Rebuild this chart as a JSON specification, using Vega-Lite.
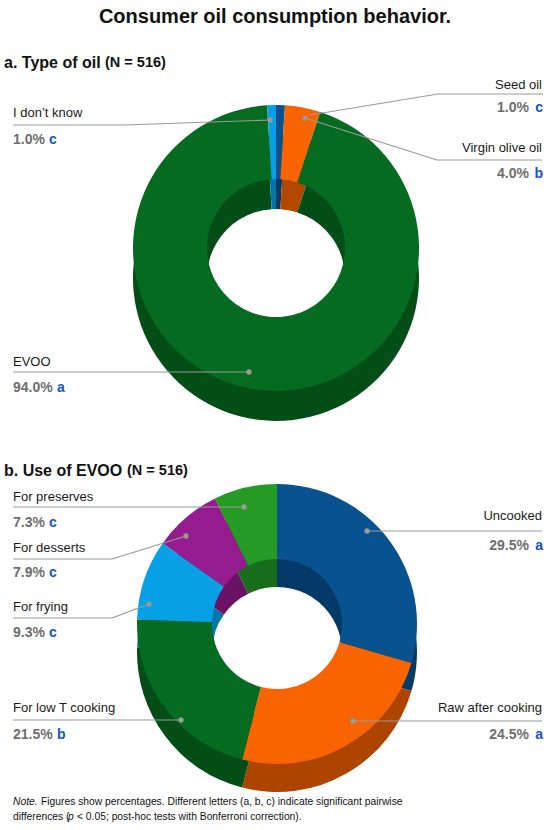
{
  "$schema": "https://vega.github.io/schema/vega-lite/v6.json",
  "width": 550,
  "height": 830,
  "autosize": {"type": "fit", "contains": "padding"},
  "padding": 0,
  "background": "white",
  "config": {"view": {"stroke": null}, "font": "Liberation Sans"},
  "datasets": {
    "panels": [
      {"chart": "a", "cx": 276, "cy": 248, "cyd": 278},
      {"chart": "b", "cx": 277, "cy": 624, "cyd": 652}
    ],
    "slices": [
      {"chart": "a", "cat": "Seed oil", "value": 1.0, "ord": 1},
      {"chart": "a", "cat": "Virgin olive oil", "value": 4.0, "ord": 2},
      {"chart": "a", "cat": "EVOO", "value": 94.0, "ord": 3},
      {"chart": "a", "cat": "I don't know", "value": 1.0, "ord": 4},
      {"chart": "b", "cat": "Uncooked", "value": 29.5, "ord": 1},
      {"chart": "b", "cat": "Raw after cooking", "value": 24.5, "ord": 2},
      {"chart": "b", "cat": "For low T cooking", "value": 21.5, "ord": 3},
      {"chart": "b", "cat": "For frying", "value": 9.3, "ord": 4},
      {"chart": "b", "cat": "For desserts", "value": 7.9, "ord": 5},
      {"chart": "b", "cat": "For preserves", "value": 7.3, "ord": 6}
    ],
    "leaders": [
      {"x": 13, "y": 125, "x2": 123, "y2": 125},
      {"x": 123, "y": 125, "x2": 270, "y2": 120},
      {"x": 543, "y": 94, "x2": 438, "y2": 94},
      {"x": 438, "y": 94, "x2": 310, "y2": 115},
      {"x": 542, "y": 160, "x2": 437, "y2": 160},
      {"x": 437, "y": 160, "x2": 305, "y2": 118},
      {"x": 13, "y": 372, "x2": 249, "y2": 372},
      {"x": 13, "y": 507, "x2": 244, "y2": 507},
      {"x": 13, "y": 559, "x2": 112, "y2": 559},
      {"x": 112, "y": 559, "x2": 186, "y2": 536},
      {"x": 13, "y": 618, "x2": 112, "y2": 618},
      {"x": 112, "y": 618, "x2": 149, "y2": 604},
      {"x": 13, "y": 720, "x2": 181, "y2": 720},
      {"x": 542, "y": 531, "x2": 367, "y2": 531},
      {"x": 542, "y": 721, "x2": 353, "y2": 721}
    ],
    "dots": [
      {"x": 270, "y": 120}, {"x": 305, "y": 118}, {"x": 249, "y": 372},
      {"x": 244, "y": 507}, {"x": 186, "y": 536}, {"x": 149, "y": 604},
      {"x": 181, "y": 720}, {"x": 367, "y": 531}, {"x": 353, "y": 721}
    ],
    "texts": [
      {"kind": "title", "x": 275, "y": 17, "text": "Consumer oil consumption behavior."},
      {"kind": "head", "x": 4, "y": 63, "text": "a. Type of oil"},
      {"kind": "head", "x": 4, "y": 471, "text": "b. Use of EVOO"},
      {"kind": "headn", "x": 105, "y": 63, "text": "(N = 516)"},
      {"kind": "headn", "x": 127, "y": 471, "text": "(N = 516)"},
      {"kind": "name-l", "x": 13, "y": 113, "text": "I don’t know"},
      {"kind": "name-l", "x": 13, "y": 362, "text": "EVOO"},
      {"kind": "name-l", "x": 13, "y": 497, "text": "For preserves"},
      {"kind": "name-l", "x": 13, "y": 548, "text": "For desserts"},
      {"kind": "name-l", "x": 13, "y": 607, "text": "For frying"},
      {"kind": "name-l", "x": 13, "y": 708, "text": "For low T cooking"},
      {"kind": "name-r", "x": 542, "y": 85, "text": "Seed oil"},
      {"kind": "name-r", "x": 542, "y": 148, "text": "Virgin olive oil"},
      {"kind": "name-r", "x": 542, "y": 516, "text": "Uncooked"},
      {"kind": "name-r", "x": 542, "y": 708, "text": "Raw after cooking"},
      {"kind": "pct-l", "x": 13, "y": 140, "text": "1.0%"},
      {"kind": "pct-l", "x": 13, "y": 388, "text": "94.0%"},
      {"kind": "pct-l", "x": 13, "y": 523, "text": "7.3%"},
      {"kind": "pct-l", "x": 13, "y": 573, "text": "7.9%"},
      {"kind": "pct-l", "x": 13, "y": 633, "text": "9.3%"},
      {"kind": "pct-l", "x": 13, "y": 735, "text": "21.5%"},
      {"kind": "pct-r", "x": 529, "y": 108, "text": "1.0%"},
      {"kind": "pct-r", "x": 529, "y": 174, "text": "4.0%"},
      {"kind": "pct-r", "x": 529, "y": 546, "text": "29.5%"},
      {"kind": "pct-r", "x": 529, "y": 735, "text": "24.5%"},
      {"kind": "let-l", "x": 49, "y": 140, "text": "c"},
      {"kind": "let-l", "x": 57, "y": 388, "text": "a"},
      {"kind": "let-l", "x": 49, "y": 523, "text": "c"},
      {"kind": "let-l", "x": 49, "y": 573, "text": "c"},
      {"kind": "let-l", "x": 49, "y": 633, "text": "c"},
      {"kind": "let-l", "x": 57, "y": 735, "text": "b"},
      {"kind": "let-r", "x": 543, "y": 108, "text": "c"},
      {"kind": "let-r", "x": 543, "y": 174, "text": "b"},
      {"kind": "let-r", "x": 543, "y": 546, "text": "a"},
      {"kind": "let-r", "x": 543, "y": 735, "text": "a"},
      {"kind": "note-i", "x": 13, "y": 805, "text": "Note."},
      {"kind": "note", "x": 41, "y": 805, "text": "Figures show percentages. Different letters (a, b, c) indicate significant pairwise"},
      {"kind": "note", "x": 13, "y": 820, "text": "differences ("},
      {"kind": "note-i", "x": 68, "y": 820, "text": "p"},
      {"kind": "note", "x": 77, "y": 820, "text": "< 0.05; post-hoc tests with Bonferroni correction)."}
    ]
  },
  "encoding": {
    "x": {"field": "x", "type": "quantitative", "scale": {"domain": [0, 550], "nice": false, "zero": false}, "axis": null},
    "y": {"field": "y", "type": "quantitative", "scale": {"domain": [0, 830], "nice": false, "zero": false, "reverse": true}, "axis": null}
  },
  "layer": [
    {
      "data": {"name": "slices"},
      "transform": [
        {"filter": "datum.chart === 'a'"},
        {"lookup": "chart", "from": {"data": {"name": "panels"}, "key": "chart", "fields": ["cx", "cy", "cyd"]}},
        {"stack": "value", "groupby": ["chart"], "sort": [{"field": "ord", "order": "ascending"}], "as": ["t0", "t1"]}
      ],
      "mark": {"type": "arc", "outerRadius": 143, "innerRadius": 69},
      "encoding": {
        "x": {"field": "cx", "type": "quantitative", "stack": null, "scale": {"domain": [0, 550], "nice": false, "zero": false}, "axis": null},
        "y": {"field": "cyd", "type": "quantitative", "stack": null, "scale": {"domain": [0, 830], "nice": false, "zero": false, "reverse": true}, "axis": null},
        "theta": {"field": "t0", "type": "quantitative", "scale": {"domain": [0, 100]}},
        "theta2": {"field": "t1"},
        "fill": {
          "field": "cat", "type": "nominal", "legend": null,
          "scale": {
            "domain": ["Seed oil", "Virgin olive oil", "EVOO", "I don't know", "Uncooked", "Raw after cooking", "For low T cooking", "For frying", "For desserts", "For preserves"],
            "range": ["#053a68", "#b04800", "#034d16", "#0675a8", "#053a68", "#ad4400", "#034d16", "#0777aa", "#6a1366", "#186e1c"]
          }
        }
      }
    },
    {
      "data": {"name": "slices"},
      "transform": [
        {"filter": "datum.chart === 'b'"},
        {"lookup": "chart", "from": {"data": {"name": "panels"}, "key": "chart", "fields": ["cx", "cy", "cyd"]}},
        {"stack": "value", "groupby": ["chart"], "sort": [{"field": "ord", "order": "ascending"}], "as": ["t0", "t1"]}
      ],
      "mark": {"type": "arc", "outerRadius": 140, "innerRadius": 65},
      "encoding": {
        "x": {"field": "cx", "type": "quantitative", "stack": null, "scale": {"domain": [0, 550], "nice": false, "zero": false}, "axis": null},
        "y": {"field": "cyd", "type": "quantitative", "stack": null, "scale": {"domain": [0, 830], "nice": false, "zero": false, "reverse": true}, "axis": null},
        "theta": {"field": "t0", "type": "quantitative", "scale": {"domain": [0, 100]}},
        "theta2": {"field": "t1"},
        "fill": {
          "field": "cat", "type": "nominal", "legend": null,
          "scale": {
            "domain": ["Seed oil", "Virgin olive oil", "EVOO", "I don't know", "Uncooked", "Raw after cooking", "For low T cooking", "For frying", "For desserts", "For preserves"],
            "range": ["#053a68", "#b04800", "#034d16", "#0675a8", "#053a68", "#ad4400", "#034d16", "#0777aa", "#6a1366", "#186e1c"]
          }
        }
      }
    },
    {
      "data": {"name": "slices"},
      "transform": [
        {"filter": "datum.chart === 'a'"},
        {"lookup": "chart", "from": {"data": {"name": "panels"}, "key": "chart", "fields": ["cx", "cy", "cyd"]}},
        {"stack": "value", "groupby": ["chart"], "sort": [{"field": "ord", "order": "ascending"}], "as": ["t0", "t1"]}
      ],
      "mark": {"type": "arc", "outerRadius": 143, "innerRadius": 69},
      "encoding": {
        "x": {"field": "cx", "type": "quantitative", "stack": null, "scale": {"domain": [0, 550], "nice": false, "zero": false}, "axis": null},
        "y": {"field": "cy", "type": "quantitative", "stack": null, "scale": {"domain": [0, 830], "nice": false, "zero": false, "reverse": true}, "axis": null},
        "theta": {"field": "t0", "type": "quantitative", "scale": {"domain": [0, 100]}},
        "theta2": {"field": "t1"},
        "color": {
          "field": "cat", "type": "nominal", "legend": null,
          "scale": {
            "domain": ["Seed oil", "Virgin olive oil", "EVOO", "I don't know", "Uncooked", "Raw after cooking", "For low T cooking", "For frying", "For desserts", "For preserves"],
            "range": ["#07528f", "#f86500", "#056b21", "#07a0e5", "#07528f", "#f86500", "#056b21", "#07a0e5", "#951c8f", "#259a25"]
          }
        }
      }
    },
    {
      "data": {"name": "slices"},
      "transform": [
        {"filter": "datum.chart === 'b'"},
        {"lookup": "chart", "from": {"data": {"name": "panels"}, "key": "chart", "fields": ["cx", "cy", "cyd"]}},
        {"stack": "value", "groupby": ["chart"], "sort": [{"field": "ord", "order": "ascending"}], "as": ["t0", "t1"]}
      ],
      "mark": {"type": "arc", "outerRadius": 140, "innerRadius": 65},
      "encoding": {
        "x": {"field": "cx", "type": "quantitative", "stack": null, "scale": {"domain": [0, 550], "nice": false, "zero": false}, "axis": null},
        "y": {"field": "cy", "type": "quantitative", "stack": null, "scale": {"domain": [0, 830], "nice": false, "zero": false, "reverse": true}, "axis": null},
        "theta": {"field": "t0", "type": "quantitative", "scale": {"domain": [0, 100]}},
        "theta2": {"field": "t1"},
        "color": {
          "field": "cat", "type": "nominal", "legend": null,
          "scale": {
            "domain": ["Seed oil", "Virgin olive oil", "EVOO", "I don't know", "Uncooked", "Raw after cooking", "For low T cooking", "For frying", "For desserts", "For preserves"],
            "range": ["#07528f", "#f86500", "#056b21", "#07a0e5", "#07528f", "#f86500", "#056b21", "#07a0e5", "#951c8f", "#259a25"]
          }
        }
      }
    },
    {
      "data": {"name": "leaders"},
      "mark": {"type": "rule", "color": "#9a9a9a", "strokeWidth": 1.2},
      "encoding": {
        "x2": {"field": "x2"},
        "y2": {"field": "y2"}
      }
    },
    {
      "data": {"name": "dots"},
      "mark": {"type": "point", "filled": true, "color": "#9a9a9a", "size": 28, "opacity": 1}
    },
    {
      "data": {"name": "texts"},
      "transform": [{"filter": "datum.kind === 'title'"}],
      "mark": {"type": "text", "align": "center", "baseline": "middle", "fontSize": 20, "fontWeight": "bold", "color": "#111"},
      "encoding": {"text": {"field": "text"}}
    },
    {
      "data": {"name": "texts"},
      "transform": [{"filter": "datum.kind === 'head'"}],
      "mark": {"type": "text", "align": "left", "baseline": "middle", "fontSize": 16, "fontWeight": "bold", "color": "#111"},
      "encoding": {"text": {"field": "text"}}
    },
    {
      "data": {"name": "texts"},
      "transform": [{"filter": "datum.kind === 'headn'"}],
      "mark": {"type": "text", "align": "left", "baseline": "middle", "fontSize": 14.5, "fontWeight": "bold", "color": "#111"},
      "encoding": {"text": {"field": "text"}}
    },
    {
      "data": {"name": "texts"},
      "transform": [{"filter": "datum.kind === 'name-l'"}],
      "mark": {"type": "text", "align": "left", "baseline": "middle", "fontSize": 13, "color": "#1a1a1a"},
      "encoding": {"text": {"field": "text"}}
    },
    {
      "data": {"name": "texts"},
      "transform": [{"filter": "datum.kind === 'name-r'"}],
      "mark": {"type": "text", "align": "right", "baseline": "middle", "fontSize": 13, "color": "#1a1a1a"},
      "encoding": {"text": {"field": "text"}}
    },
    {
      "data": {"name": "texts"},
      "transform": [{"filter": "datum.kind === 'pct-l'"}],
      "mark": {"type": "text", "align": "left", "baseline": "middle", "fontSize": 14, "fontWeight": "bold", "color": "#6e6e6e"},
      "encoding": {"text": {"field": "text"}}
    },
    {
      "data": {"name": "texts"},
      "transform": [{"filter": "datum.kind === 'pct-r'"}],
      "mark": {"type": "text", "align": "right", "baseline": "middle", "fontSize": 14, "fontWeight": "bold", "color": "#6e6e6e"},
      "encoding": {"text": {"field": "text"}}
    },
    {
      "data": {"name": "texts"},
      "transform": [{"filter": "datum.kind === 'let-l'"}],
      "mark": {"type": "text", "align": "left", "baseline": "middle", "fontSize": 14, "fontWeight": "bold", "color": "#1256c4"},
      "encoding": {"text": {"field": "text"}}
    },
    {
      "data": {"name": "texts"},
      "transform": [{"filter": "datum.kind === 'let-r'"}],
      "mark": {"type": "text", "align": "right", "baseline": "middle", "fontSize": 14, "fontWeight": "bold", "color": "#1256c4"},
      "encoding": {"text": {"field": "text"}}
    },
    {
      "data": {"name": "texts"},
      "transform": [{"filter": "datum.kind === 'note'"}],
      "mark": {"type": "text", "align": "left", "baseline": "alphabetic", "fontSize": 10.3, "color": "#111"},
      "encoding": {"text": {"field": "text"}}
    },
    {
      "data": {"name": "texts"},
      "transform": [{"filter": "datum.kind === 'note-i'"}],
      "mark": {"type": "text", "align": "left", "baseline": "alphabetic", "fontSize": 10.3, "fontStyle": "italic", "color": "#111"},
      "encoding": {"text": {"field": "text"}}
    }
  ]
}
